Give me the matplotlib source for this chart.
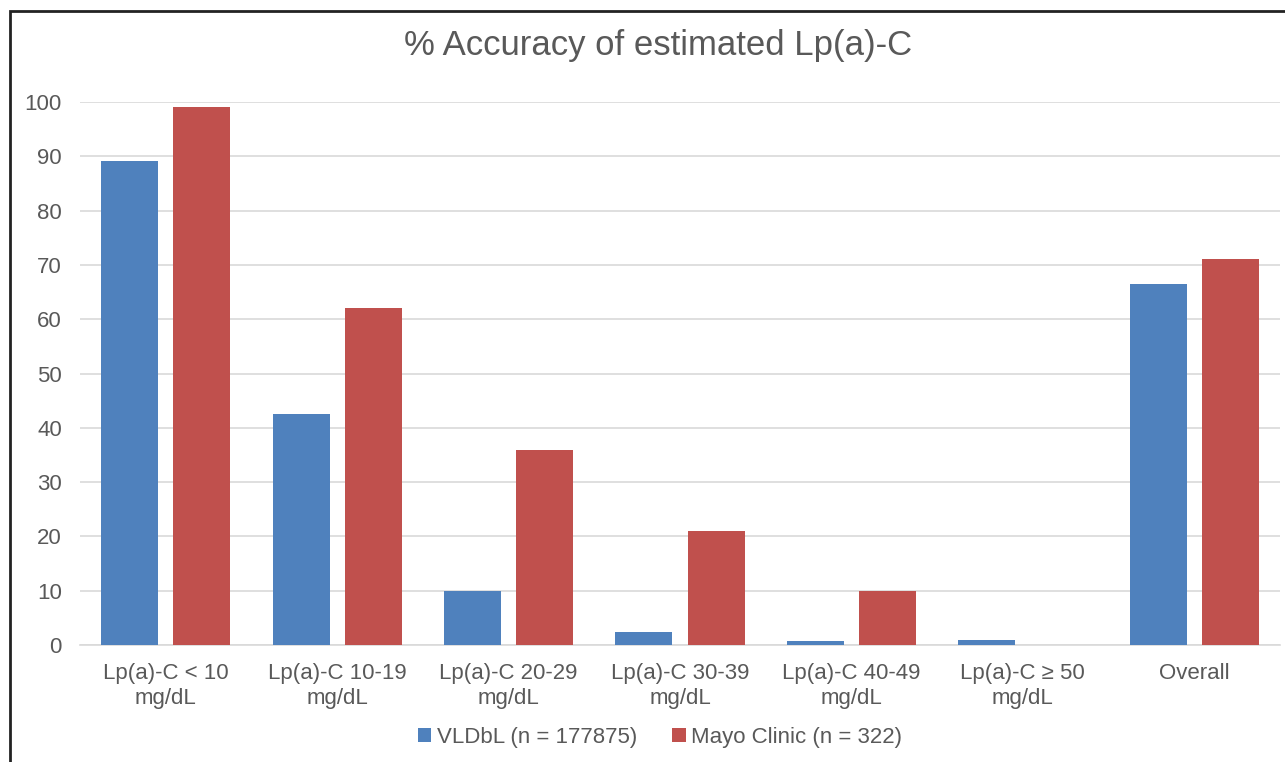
import matplotlib.pyplot as plt
import numpy as np

plt.rcParams['font.family'] = ['Liberation Sans', 'DejaVu Sans']

categories = ['Lp(a)-C < 10\nmg/dL', 'Lp(a)-C 10-19\nmg/dL', 'Lp(a)-C 20-29\nmg/dL',
              'Lp(a)-C 30-39\nmg/dL', 'Lp(a)-C 40-49\nmg/dL', 'Lp(a)-C \u2265 50\nmg/dL',
              'Overall']
vldbl = [89.2, 42.5, 9.9, 2.4, 0.7, 0.9, 66.5]
mayo = [99.1, 62.1, 35.9, 21.0, 9.9, 0.0, 71.1]
series_names = ['VLDbL (n = 177875)', 'Mayo Clinic (n = 322)']

text_color = '#595959'
blue = '#4F81BD'
red = '#C0504D'

fig = plt.figure(figsize=(12.85, 7.62), dpi=100)
ax = fig.add_axes([80 / 1285, 117 / 762, 1200 / 1285, 543 / 762])

# frame line around the chart
fig.patches.append(plt.Rectangle((10 / 1285, -0.05), 1.2, 751 / 762 + 0.05,
                                 transform=fig.transFigure, fill=False,
                                 edgecolor='#222222', linewidth=2))

x = np.arange(len(categories))
w = 0.333
gap = 0.088
ax.bar(x - (w + gap) / 2, vldbl, w, color=blue, label=series_names[0], zorder=3)
ax.bar(x + (w + gap) / 2, mayo, w, color=red, label=series_names[1], zorder=3)

ax.set_xlim(-0.5, len(categories) - 0.5)
ax.set_ylim(0, 100)
ax.set_yticks(range(0, 101, 10))
ax.yaxis.grid(True, color='#D9D9D9', linewidth=1.2, zorder=0)
ax.set_xticks(x)
ax.set_xticklabels(categories, linespacing=1.25)
ax.tick_params(axis='both', length=0, labelsize=16, colors=text_color)
ax.tick_params(axis='x', pad=13)
ax.tick_params(axis='y', pad=13)
for s in ['top', 'right', 'left']:
    ax.spines[s].set_visible(False)
ax.spines['bottom'].set_color('#D9D9D9')
ax.spines['bottom'].set_linewidth(1.2)

fig.text(0.512, 1 - 46 / 762, '% Accuracy of estimated Lp(a)-C', ha='center', va='center',
         fontsize=25, color=text_color)

fig.legend(loc='center', bbox_to_anchor=(660 / 1285, 1 - 737 / 762), ncol=2, frameon=False,
           fontsize=16, labelcolor=text_color, handlelength=0.6, handleheight=0.6,
           handletextpad=0.25, columnspacing=1.6)

fig.savefig('out.png', dpi=100)
